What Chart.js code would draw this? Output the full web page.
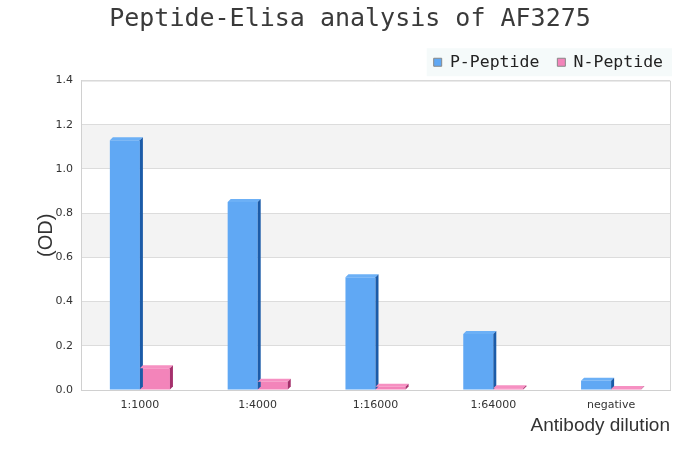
<!DOCTYPE html>
<html>
<head>
<meta charset="utf-8">
<script src="https://cdn.jsdelivr.net/npm/chart.js@4"></script>
<style>
html,body{margin:0;padding:0;background:#fff;}
#wrap{width:700px;height:450px;}
</style>
</head>
<body>
<div id="wrap"><canvas id="c" width="700" height="450"></canvas></div>
<script>
const categories = ['1:1000', '1:4000', '1:16000', '1:64000', 'negative'];
const pPeptide = [1.13, 0.85, 0.51, 0.253, 0.042];
const nPeptide = [0.098, 0.037, 0.015, 0.008, 0.004];
const yTicks = [0, 0.2, 0.4, 0.6, 0.8, 1.0, 1.2, 1.4];
const seriesNames = ['P-Peptide', 'N-Peptide'];
const titleText = 'Peptide-Elisa analysis of AF3275';
const yTitle = '(OD)';
const xTitle = 'Antibody dilution';

const faces = [
  {front: '#60a8f4', top: '#6cb0f6', side: '#1b5ba8'},
  {front: '#f384ba', top: '#f690c2', side: '#a5306c'}
];

const legendShiftPlugin = {
  id: 'legendShift',
  afterLayout(chart) {
    const lg = chart.legend;
    if (lg) {
      lg.right = chart.chartArea.right + 11;
      lg.width = lg.right - lg.left;
    }
  }
};

const backgroundPlugin = {
  id: 'bg',
  beforeDraw(chart) {
    const {ctx, chartArea: a, scales} = chart;
    const y = scales.y;
    ctx.save();
    const hb = chart.legend && chart.legend.legendHitBoxes;
    if (hb && hb.length) {
      const first = hb[0], last = hb[hb.length - 1];
      const cy = first.top + first.height / 2;
      ctx.fillStyle = '#f5fafa';
      ctx.fillRect(first.left - 7, cy - 14, last.left + last.width - first.left + 16, 28);
    }
    ctx.fillStyle = '#f3f3f3';
    for (let i = 1; i < yTicks.length - 1; i += 2) {
      const y1 = y.getPixelForValue(yTicks[i]);
      const y2 = y.getPixelForValue(yTicks[i + 1]);
      ctx.fillRect(a.left, y2, a.right - a.left, y1 - y2);
    }
    ctx.restore();
  },
  afterDraw(chart) {
    const {ctx, chartArea: a} = chart;
    ctx.save();
    ctx.strokeStyle = '#d6d6d6';
    ctx.lineWidth = 1;
    ctx.beginPath();
    ctx.moveTo(a.left, a.top + 0.5);
    ctx.lineTo(a.right + 0.5, a.top + 0.5);
    ctx.lineTo(a.right + 0.5, a.bottom);
    ctx.stroke();
    ctx.restore();
  }
};

const bar3dPlugin = {
  id: 'bar3d',
  afterDatasetsDraw(chart) {
    const ctx = chart.ctx;
    const d = 3;
    chart.data.datasets.forEach((ds, di) => {
      const meta = chart.getDatasetMeta(di);
      const f = faces[di];
      meta.data.forEach(el => {
        const {x, y, base, width} = el.getProps(['x', 'y', 'base', 'width'], true);
        const l = x - width / 2, r = x + width / 2;
        ctx.save();
        ctx.fillStyle = f.top;
        ctx.beginPath();
        ctx.moveTo(l, y);
        ctx.lineTo(l + d, y - d);
        ctx.lineTo(r + d, y - d);
        ctx.lineTo(r, y);
        ctx.closePath();
        ctx.fill();
        ctx.fillStyle = f.side;
        ctx.beginPath();
        ctx.moveTo(r, y);
        ctx.lineTo(r + d, y - d);
        ctx.lineTo(r + d, base - d);
        ctx.lineTo(r, base);
        ctx.closePath();
        ctx.fill();
        ctx.restore();
      });
    });
  }
};

new Chart(document.getElementById('c'), {
  type: 'bar',
  data: {
    labels: categories,
    datasets: [
      {label: seriesNames[0], data: pPeptide, backgroundColor: faces[0].front, borderWidth: 0},
      {label: seriesNames[1], data: nPeptide, backgroundColor: faces[1].front, borderWidth: 0}
    ]
  },
  options: {
    responsive: false,
    animation: false,
    events: [],
    layout: {padding: {left: 0, right: 0, top: 0, bottom: 0}},
    datasets: {bar: {categoryPercentage: 0.51, barPercentage: 1.0}},
    plugins: {
      tooltip: {enabled: false},
      title: {
        display: true,
        text: titleText,
        color: '#3a3a3a',
        font: {family: 'DejaVu Sans Mono', size: 25, weight: 'normal', lineHeight: 1.2},
        padding: {top: 4, bottom: 2}
      },
      legend: {
        display: true,
        position: 'top',
        align: 'end',
        fullSize: false,
        maxHeight: 46,
        labels: {
          color: '#222',
          font: {family: 'DejaVu Sans Mono', size: 16.5},
          boxWidth: 8,
          boxHeight: 8,
          padding: 18,
          generateLabels(chart) {
            return chart.data.datasets.map((ds, i) => ({
              text: ds.label,
              fillStyle: faces[i].front,
              strokeStyle: '#888',
              lineWidth: 1,
              hidden: false,
              datasetIndex: i,
              fontColor: '#222'
            }));
          }
        }
      }
    },
    scales: {
      x: {
        grid: {display: false, drawTicks: false},
        border: {display: true, color: '#d0d0d0'},
        ticks: {color: '#333', font: {family: 'DejaVu Sans', size: 11}, padding: 9, maxRotation: 0},
        title: {
          display: true, text: xTitle, align: 'end', color: '#333',
          font: {family: 'Liberation Sans', size: 19}, padding: {top: 4, bottom: 13}
        },
        afterFit(s) { s.height = 60; }
      },
      y: {
        min: 0, max: 1.4,
        grid: {color: '#dcdcdc', drawTicks: false},
        border: {display: true, color: '#d0d0d0'},
        ticks: {
          stepSize: 0.2, color: '#333', padding: 8,
          font: {family: 'DejaVu Sans', size: 11},
          callback: v => Number(v).toFixed(1)
        },
        title: {
          display: true, text: yTitle, color: '#333',
          font: {family: 'Liberation Sans', size: 20}, padding: {top: 34, bottom: 0}
        },
        afterFit(s) { s.width = 81; }
      },
      yRight: {
        position: 'right',
        min: 0, max: 1.4,
        grid: {display: false, drawTicks: false},
        border: {display: false},
        ticks: {display: false},
        afterFit(s) { s.width = 30; }
      }
    }
  },
  plugins: [legendShiftPlugin, backgroundPlugin, bar3dPlugin]
});
</script>
</body>
</html>
